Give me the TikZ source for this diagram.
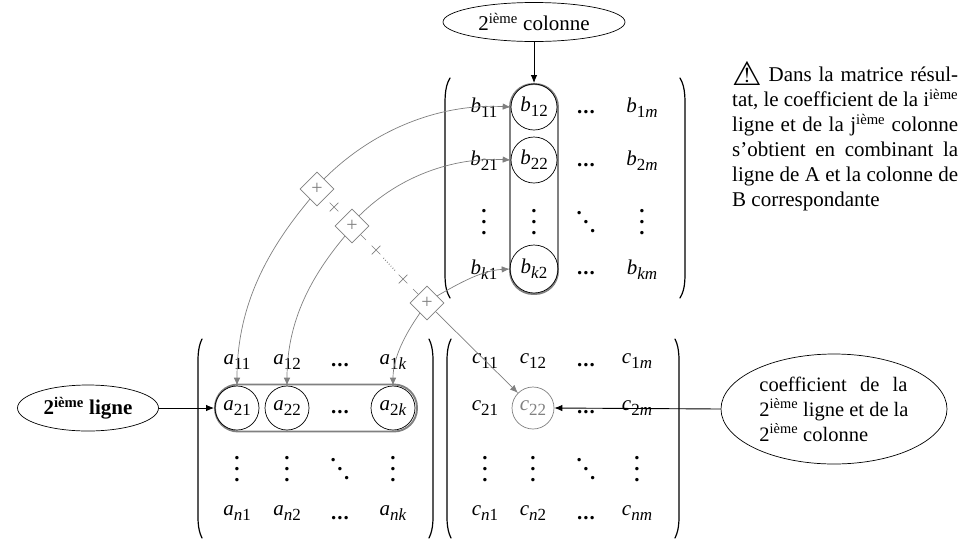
\documentclass[tikz,border=0pt]{standalone}
\usepackage{fontspec}
\setmainfont{Liberation Serif}
\newfontfamily\symfont{DejaVu Sans}
\usetikzlibrary{arrows.meta,shapes.geometric,shapes.misc}
\newcommand\ent[2]{\textit{#1}\raisebox{-0.22em}{\fontsize{17}{17}\selectfont #2}}
\newcommand\sm[1]{\textit{#1}}
\newcommand\ieme{\textsuperscript{ième}}
\newcommand\vd{\bfseries\vbox{\baselineskip=11pt\lineskiplimit=-20pt\hbox{.}\hbox{.}\hbox{.}}}
\newcommand\dd{\bfseries\hbox{\raisebox{18pt}{.}\kern1.5pt\raisebox{9pt}{.}\kern1.5pt.}}
\newcommand\hd{\bfseries\hbox{.\kern1pt.\kern1pt.}}
\definecolor{gl}{gray}{0.5}
\tikzset{
  txt/.style={font=\fontsize{21}{25}\selectfont},
  entry/.style={txt,inner sep=0pt,anchor=center},
  delim/.style={draw=black,line width=1.2pt,line cap=round},
  bubble/.style={draw=black,ellipse,inner sep=0pt,line width=0.7pt,txt},
  disc/.style={draw=black,circle,inner sep=0pt,line width=0.7pt},
  band/.style={draw=gl,line width=1.9pt,rectangle,inner sep=0pt,rounded corners=23pt},
  plusbox/.style={draw=gl,diamond,inner sep=0pt,minimum width=34pt,minimum height=34pt,text=gl,font=\fontsize{20}{20}\selectfont,line width=0.6pt,fill=white},
  xmark/.style={draw=gl,cross out,inner sep=0pt,minimum size=8pt,line width=0.7pt},
  gline/.style={draw=gl,line width=0.7pt},
  garrow/.style={gline,-{Latex[length=8pt,width=6.5pt]}},
  karrow/.style={draw=black,line width=0.9pt,-{Latex[length=8pt,width=6.5pt]}},
}
\begin{document}
\begin{tikzpicture}[x=1pt,y=-1pt]
\useasboundingbox[fill=white] (0,0) rectangle (966,539);

% bands
\node[band,minimum width=48pt,minimum height=210pt] (colb) at (534,189) {};
\node[band,minimum width=202pt,minimum height=47pt] (rowa) at (316,408) {};

% matrix B
\node[entry] (b11) at (484,108) {\ent{b}{11}};
\node[entry] (b21) at (484,161) {\ent{b}{21}};
\node[entry] (bv1) at (484,222) {\vd};
\node[entry] (bk1) at (484,270) {\ent{b}{\sm{k}1}};
\node[disc,minimum size=46pt,entry] (b12) at (534,107) {\ent{b}{12}};
\node[disc,minimum size=46pt,entry] (b22) at (534,160) {\ent{b}{22}};
\node[entry] (bv2) at (534,222) {\vd};
\node[disc,minimum size=48pt,entry] (bk2) at (534,269) {\ent{b}{\sm{k}2}};
\node[entry] (bd1) at (586,112) {\hd};
\node[entry] (bd2) at (586,165) {\hd};
\node[entry] (bdd) at (586,222) {\dd};
\node[entry] (bd3) at (586,273) {\hd};
\node[entry] (b1m) at (642,108) {\ent{b}{1\sm{m}}};
\node[entry] (b2m) at (642,161) {\ent{b}{2\sm{m}}};
\node[entry] (bvm) at (642,222) {\vd};
\node[entry] (bkm) at (642,270) {\ent{b}{\sm{km}}};
\draw[delim] (450,78) .. controls (444,88) and (445,100) .. (445,120) -- (445,256) .. controls (445,278) and (444,288) .. (450,298);
\draw[delim] (680,78) .. controls (686,88) and (685,100) .. (685,120) -- (685,256) .. controls (685,278) and (686,288) .. (680,298);

% matrix A
\node[entry] (a11) at (237,362) {\ent{a}{11}};
\node[entry] (a12) at (287,362) {\ent{a}{12}};
\node[entry] (a1d) at (340,365) {\hd};
\node[entry] (a1k) at (393,362) {\ent{a}{1\sm{k}}};
\node[disc,minimum size=44pt,entry] (a21) at (237,408) {\ent{a}{21}};
\node[disc,minimum size=44pt,entry] (a22) at (287,408) {\ent{a}{22}};
\node[entry] (a2d) at (340,412) {\hd};
\node[disc,minimum size=44pt,entry] (a2k) at (393,408) {\ent{a}{2\sm{k}}};
\node[entry] (av1) at (237,469) {\vd};
\node[entry] (av2) at (287,469) {\vd};
\node[entry] (add) at (340,469) {\dd};
\node[entry] (avk) at (393,469) {\vd};
\node[entry] (an1) at (237,513) {\ent{a}{\sm{n}1}};
\node[entry] (an2) at (287,513) {\ent{a}{\sm{n}2}};
\node[entry] (and) at (340,518) {\hd};
\node[entry] (ank) at (393,513) {\ent{a}{\sm{nk}}};
\draw[delim] (202,339) .. controls (197,349) and (198,360) .. (198,380) -- (198,497) .. controls (198,518) and (197,528) .. (202,538);
\draw[delim] (429,339) .. controls (434,349) and (433,360) .. (433,380) -- (433,497) .. controls (433,518) and (434,528) .. (429,538);

% matrix C
\node[entry] (c11) at (485,361) {\ent{c}{11}};
\node[entry] (c12) at (533,361) {\ent{c}{12}};
\node[entry] (c1d) at (586,365) {\hd};
\node[entry] (c1m) at (637,361) {\ent{c}{1\sm{m}}};
\node[entry] (c21) at (485,408) {\ent{c}{21}};
\node[disc,draw=gl,text=gl,minimum size=42pt,entry] (c22) at (533,408) {\ent{c}{22}};
\node[entry] (c2d) at (586,412) {\hd};
\node[entry] (c2m) at (637,408) {\ent{c}{2\sm{m}}};
\node[entry] (cv1) at (485,469) {\vd};
\node[entry] (cv2) at (533,469) {\vd};
\node[entry] (cdd) at (586,469) {\dd};
\node[entry] (cvm) at (637,469) {\vd};
\node[entry] (cn1) at (485,513) {\ent{c}{\sm{n}1}};
\node[entry] (cn2) at (533,513) {\ent{c}{\sm{n}2}};
\node[entry] (cnd) at (586,518) {\hd};
\node[entry] (cnm) at (637,513) {\ent{c}{\sm{nm}}};
\draw[delim] (451,339) .. controls (446,349) and (447,360) .. (447,380) -- (447,497) .. controls (447,518) and (446,528) .. (451,538);
\draw[delim] (675,339) .. controls (680,349) and (679,360) .. (679,380) -- (679,497) .. controls (679,518) and (680,528) .. (675,538);

% labels
\node[bubble,minimum width=182pt,minimum height=39pt] (ecol) at (534,22) {2\ieme{} colonne};
\node[bubble,minimum width=141pt,minimum height=46pt] (elig) at (88,408) {\textbf{2\ieme{} ligne}};
\node[bubble,font=\fontsize{20.5}{25}\selectfont,minimum width=226pt,minimum height=110pt,align=left] (ecoef) at (834,409) {\makebox[148pt][s]{coefficient de la}\\2\ieme{} ligne et de la\\2\ieme{} colonne};

% note
\node[txt,anchor=north west,inner sep=0pt,align=left] (note) at (732,67) {%
\makebox[226pt][s]{\smash{\raisebox{-4pt}{\symfont\fontsize{33}{25}\selectfont ⚠}} Dans la matrice résul-}\\
\makebox[226pt][s]{tat, le coefficient de la i\ieme}\\
\makebox[226pt][s]{ligne et de la j\ieme{} colonne}\\
\makebox[226pt][s]{s’obtient en combinant la}\\
\makebox[226pt][s]{ligne de A et la colonne de}\\
B correspondante};

% combination nodes
\node[plusbox] (d1) at (317,189) {+};
\node[plusbox] (d2) at (352,226) {+};
\node[plusbox] (d3) at (427,303) {+};
\node[xmark] (x1) at (334,207) {};
\node[xmark] (x2) at (376,250) {};
\node[xmark] (x3) at (403,279) {};

% grey connectors
\draw[gline,shorten >=8pt] (d2.south east) -- (x2);
\draw[gline,dotted,line width=1.2pt,shorten >=5pt,shorten <=5pt] (x2) -- (x3);
\draw[gline,shorten <=8pt] (x3) -- (d3.north west);
\draw[garrow] (d1.55) to[out=45,in=177,looseness=0.9] (b12.west);
\draw[garrow] (d2.55) to[out=45,in=177,looseness=0.9] (b22.west);
\draw[garrow] (d3.35) to[out=30,in=183,looseness=0.9] (bk2.west);
\draw[garrow] (d1.235) to[out=-130,in=90,looseness=0.95] (a21.north);
\draw[garrow] (d2.235) to[out=-130,in=90,looseness=0.95] (a22.north);
\draw[garrow] (d3.235) to[out=-125,in=90,looseness=0.9] (a2k.north);
\draw[garrow] (d3.south east) -- (c22.north west);

% black connectors
\draw[karrow] (ecol.south) -- (colb.north);
\draw[karrow] (elig.east) -- (rowa.west);
\draw[karrow] (ecoef.west) -- (c22.east);
\end{tikzpicture}
\end{document}
